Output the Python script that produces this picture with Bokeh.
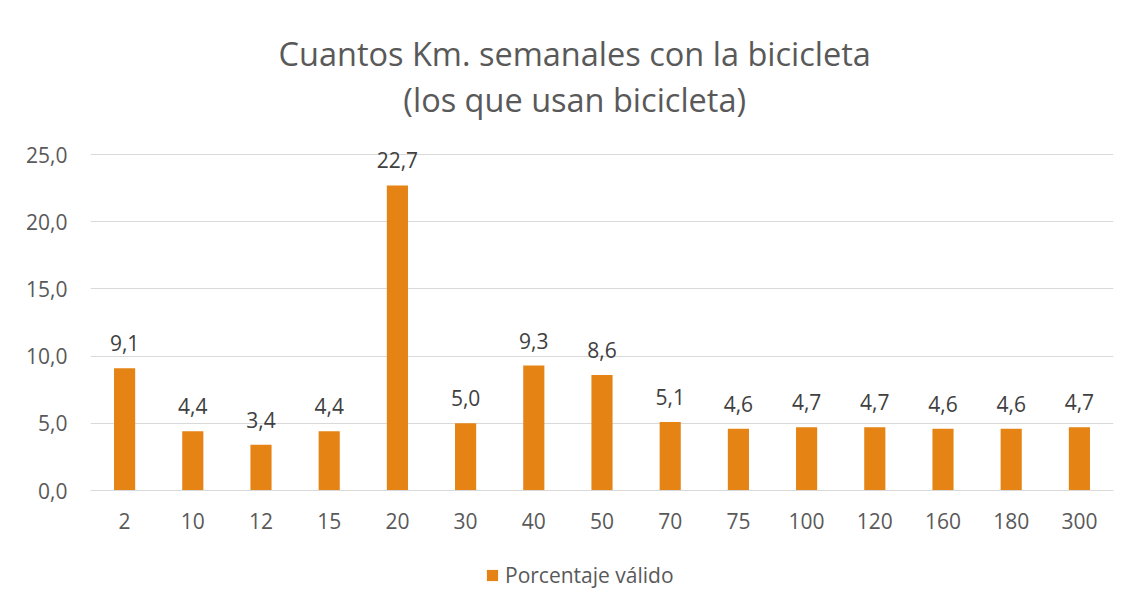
from bokeh.plotting import figure
from bokeh.layouts import column
from bokeh.models import ColumnDataSource, LabelSet, Label, Legend, LegendItem, FixedTicker, Range1d, FactorRange
from bokeh.core.properties import value
from bokeh.embed import file_html
from bokeh.resources import INLINE

categories = ["2", "10", "12", "15", "20", "30", "40", "50", "70", "75", "100", "120", "160", "180", "300"]
values = [9.1, 4.4, 3.4, 4.4, 22.7, 5.0, 9.3, 8.6, 5.1, 4.6, 4.7, 4.7, 4.6, 4.6, 4.7]
value_labels = ["9,1", "4,4", "3,4", "4,4", "22,7", "5,0", "9,3", "8,6", "5,1", "4,6", "4,7", "4,7", "4,6", "4,6", "4,7"]
y_ticks = [0, 5, 10, 15, 20, 25]
y_tick_labels = ["0,0", "5,0", "10,0", "15,0", "20,0", "25,0"]
title_lines = ["Cuantos Km. semanales con la bicicleta", "(los que usan bicicleta)"]
series_name = "Porcentaje válido"

FONT = "Open Sans"
ORANGE = "#E58315"
GRID = "#D9D9D9"
TXT = "#595959"

source = ColumnDataSource(dict(cat=categories, val=values, lab=value_labels))

# frame spans the full top of the chart so the title can sit inside it
p = figure(width=1123, height=545, x_range=FactorRange(*categories, range_padding=0),
           y_range=Range1d(0, 36.46), output_backend="svg", toolbar_location=None,
           min_border_left=90, min_border_right=10, min_border_top=0, min_border_bottom=55)
p.outline_line_color = None
p.background_fill_color = "white"
p.border_fill_color = "white"

bars = p.vbar(x="cat", top="val", width=0.31, source=source, fill_color=ORANGE, line_color=None)

# axes
p.xaxis.axis_line_color = GRID
p.xaxis.major_tick_line_color = None
p.xaxis.major_tick_out = 0
p.xaxis.minor_tick_line_color = None
p.xaxis.major_label_text_font = FONT
p.xaxis.major_label_text_font_size = "21px"
p.xaxis.major_label_text_color = TXT
p.xaxis.major_label_standoff = 22
p.xgrid.grid_line_color = None

p.yaxis.ticker = FixedTicker(ticks=y_ticks)
p.yaxis.major_label_overrides = {t: l for t, l in zip(y_ticks, y_tick_labels)}
p.yaxis.axis_line_color = None
p.yaxis.major_tick_line_color = None
p.yaxis.major_tick_out = 0
p.yaxis.minor_tick_line_color = None
p.yaxis.major_label_text_font = FONT
p.yaxis.major_label_text_font_size = "21px"
p.yaxis.major_label_text_color = TXT
p.yaxis.major_label_standoff = 23
p.ygrid.grid_line_color = GRID
p.ygrid.ticker = FixedTicker(ticks=y_ticks)

labels = LabelSet(x="cat", y="val", text="lab", source=source, text_align="center",
                  text_baseline="bottom", y_offset=17, text_font=value(FONT),
                  text_font_size=value("21px"), text_color="#404040")
p.add_layout(labels)

for ty, txt in zip([32.5, 29.1], title_lines):
    p.add_layout(Label(x=7.1, y=ty, text=txt, text_align="center", text_baseline="middle",
                       text_font=FONT, text_font_size="32.5px", text_color=TXT))

# legend strip below the chart (its frame is aligned with the chart's frame)
lg = figure(width=1123, height=55, x_range=Range1d(0, 1), y_range=Range1d(0, 1),
            x_axis_type=None, y_axis_type=None, output_backend="svg", toolbar_location=None,
            min_border_left=0, min_border_right=0, min_border_top=0, min_border_bottom=0)
lg.outline_line_color = None
lg.grid.grid_line_color = None
key = lg.vbar(x=[0.5], top=[0], bottom=[0], width=0.0, fill_color=ORANGE, line_color=None)
legend = Legend(items=[LegendItem(label=series_name, renderers=[key])], location=(395, 11),
                orientation="horizontal", border_line_color=None, background_fill_alpha=0,
                label_text_font=FONT, label_text_font_size="21px", label_text_color=TXT,
                label_standoff=6, glyph_width=14, glyph_height=14, margin=0, padding=0)
lg.add_layout(legend)

layout = column(p, lg, spacing=0)
open("out.html", "w").write(file_html(layout, INLINE))
